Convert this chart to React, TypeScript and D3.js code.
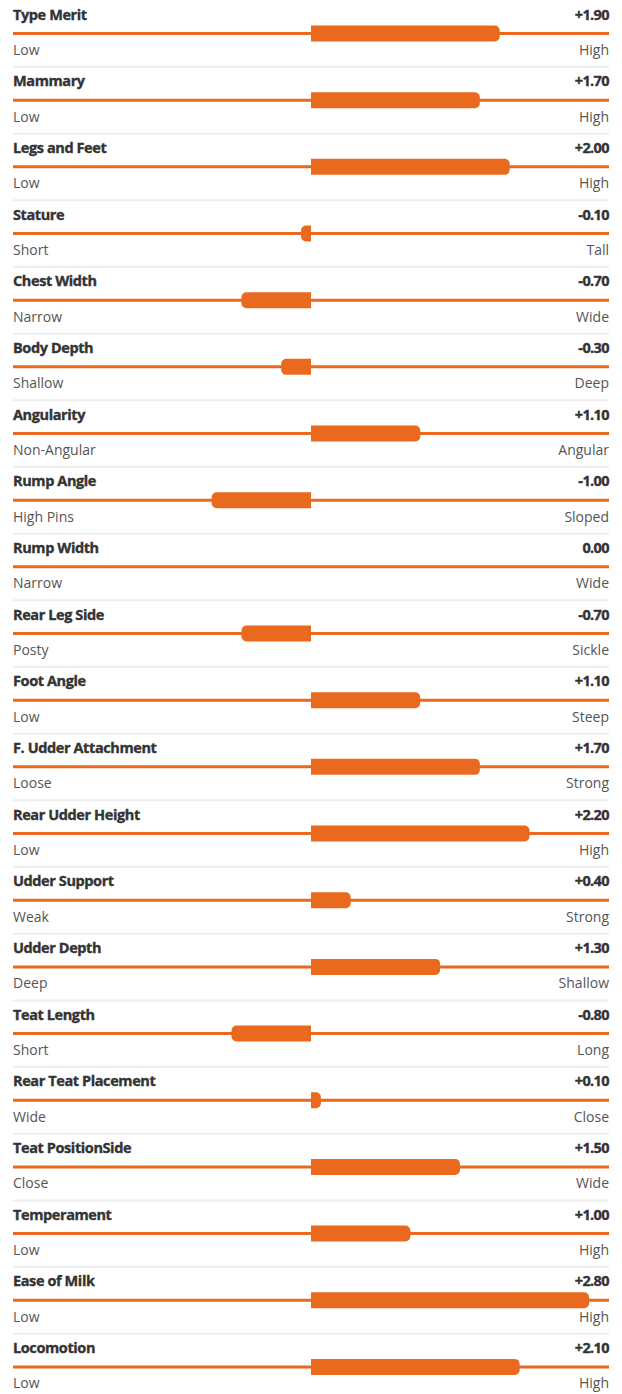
import React from "react";
import * as d3 from "d3";

const traits = ["Type Merit","Mammary","Legs and Feet","Stature","Chest Width","Body Depth","Angularity","Rump Angle","Rump Width","Rear Leg Side","Foot Angle","F. Udder Attachment","Rear Udder Height","Udder Support","Udder Depth","Teat Length","Rear Teat Placement","Teat PositionSide","Temperament","Ease of Milk","Locomotion"];
const values = [1.9,1.7,2.0,-0.1,-0.7,-0.3,1.1,-1.0,0.0,-0.7,1.1,1.7,2.2,0.4,1.3,-0.8,0.1,1.5,1.0,2.8,2.1];
const lowLabels = ["Low","Low","Low","Short","Narrow","Shallow","Non-Angular","High Pins","Narrow","Posty","Low","Loose","Low","Weak","Deep","Short","Wide","Close","Low","Low","Low"];
const highLabels = ["High","High","High","Tall","Wide","Deep","Angular","Sloped","Wide","Sickle","Steep","Strong","High","Strong","Shallow","Long","Close","Wide","High","High","High"];

const W = 622, H = 1394;
const ROW = 66.67;
const ORANGE = "#E9691E";
const FONT = "'Open Sans', sans-serif";

function barPath(x0: number, x1: number, yTop: number, h: number, r: number) {
  const p = d3.path();
  const dir = x1 >= x0 ? 1 : -1;
  const rr = Math.min(r, Math.abs(x1 - x0));
  p.moveTo(x0, yTop);
  p.lineTo(x1 - dir * rr, yTop);
  p.arcTo(x1, yTop, x1, yTop + rr, rr);
  p.lineTo(x1, yTop + h - rr);
  p.arcTo(x1, yTop + h, x1 - dir * rr, yTop + h, rr);
  p.lineTo(x0, yTop + h);
  p.closePath();
  return p.toString();
}

export default function App() {
  const x = d3.scaleLinear().domain([-3, 3]).range([13, 609]);
  const fmt = (v: number) => (v > 0 ? "+" : "") + v.toFixed(2);
  return (
    <svg width={W} height={H} style={{ position: "absolute", left: 0, top: 0 }}>
      <rect width={W} height={H} fill="#fff" />
      {traits.map((t, i) => {
        const y0 = i * ROW;
        const lineY = y0 + 33.5;
        const v = values[i];
        return (
          <g key={t}>
            <text x={13} y={y0 + 19.5} fontFamily={FONT} fontWeight={700} fontSize={14.5} fill="#333" stroke="#333" strokeWidth={0.35} letterSpacing={-0.4}>{t}</text>
            <text x={609} y={y0 + 19.5} textAnchor="end" fontFamily={FONT} fontWeight={700} fontSize={14.5} fill="#333" stroke="#333" strokeWidth={0.35} letterSpacing={-0.6}>{fmt(v)}</text>
            <line x1={x(-3)} x2={x(3)} y1={lineY} y2={lineY} stroke={ORANGE} strokeWidth={3} />
            {v !== 0 && (
              <path d={barPath(x(0), x(v), lineY - 8, 16, 5)} fill={ORANGE} />
            )}
            <text x={13} y={y0 + 55} fontFamily={FONT} fontSize={14} fill="#555">{lowLabels[i]}</text>
            <text x={609} y={y0 + 55} textAnchor="end" fontFamily={FONT} fontSize={14} fill="#555">{highLabels[i]}</text>
            {i < traits.length - 1 && (
              <line x1={13} x2={609} y1={y0 + 67} y2={y0 + 67} stroke="#eeeeee" strokeWidth={2} />
            )}
          </g>
        );
      })}
    </svg>
  );
}
